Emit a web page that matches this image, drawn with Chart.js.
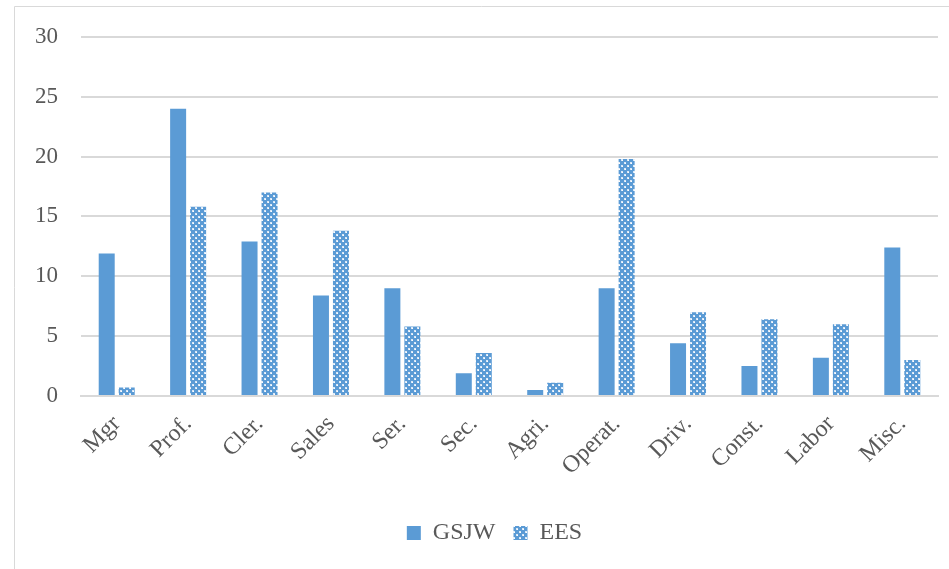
<!DOCTYPE html>
<html>
<head>
<meta charset="utf-8">
<script src="https://cdn.jsdelivr.net/npm/chart.js@4.4.1/dist/chart.umd.min.js"></script>
<style>
    html, body { margin: 0; padding: 0; background: #fff; }
    #wrap { width: 949px; height: 569px; position: relative; }
</style>
</head>
<body>
<div id="wrap"><canvas id="chart"></canvas></div>
<script>
const categories = ["Mgr", "Prof.", "Cler.", "Sales", "Ser.", "Sec.", "Agri.", "Operat.", "Driv.", "Const.", "Labor", "Misc."];
const gsjwValues = [11.9, 24.0, 12.9, 8.4, 9.0, 1.9, 0.5, 9.0, 4.4, 2.5, 3.2, 12.4];
const eesValues = [0.7, 15.8, 17.0, 13.8, 5.8, 3.6, 1.1, 19.8, 7.0, 6.4, 6.0, 3.0];

const blue = "#5b9bd5";
const textGray = "#595959";
const fontFamily = "'Liberation Serif', 'DejaVu Serif', serif";

// Excel-style dotted diamond fill for the second series
function makePattern() {
    const tile = document.createElement("canvas");
    tile.width = 6;
    tile.height = 6;
    const c = tile.getContext("2d");
    c.fillStyle = blue;
    c.fillRect(0, 0, 6, 6);
    c.fillStyle = "#dbe8f6";
    c.fillRect(0, 0, 2, 1);
    c.fillRect(0, 1, 1, 1);
    c.fillRect(3, 3, 2, 1);
    c.fillRect(3, 4, 1, 1);
    c.fillStyle = "#ffffff";
    c.fillRect(1, 1, 1, 1);
    c.fillRect(4, 4, 1, 1);
    return c.createPattern(tile, "repeat");
}
const eesPattern = makePattern();

const frameBorder = {
    id: "frameBorder",
    beforeDraw(chart) {
        const ctx = chart.ctx;
        ctx.save();
        ctx.strokeStyle = "#d9d9d9";
        ctx.lineWidth = 1;
        ctx.beginPath();
        ctx.moveTo(14.5, chart.height);
        ctx.lineTo(14.5, 6.5);
        ctx.lineTo(chart.width, 6.5);
        ctx.stroke();
        ctx.restore();
    },
};

// legend sits centred under the plot area, not the whole canvas
const legendShift = {
    id: "legendShift",
    afterLayout(chart) {
        const lg = chart.legend;
        if (!lg) return;
        const dx = (chart.chartArea.left + chart.chartArea.right) / 2 - (lg.left + lg.right) / 2 - 15;
        lg.left += dx;
        lg.right += dx;
    },
};

new Chart(document.getElementById("chart"), {
    type: "bar",
    data: {
        labels: categories,
        datasets: [
            {
                label: "GSJW",
                data: gsjwValues,
                backgroundColor: blue,
                borderWidth: 0,
            },
            {
                label: "EES",
                data: eesValues,
                backgroundColor: eesPattern,
                borderWidth: 0,
            },
        ],
    },
    options: {
        responsive: true,
        maintainAspectRatio: false,
        animation: false,
        datasets: {
            bar: { categoryPercentage: 0.56, barPercentage: 0.8 },
        },
        layout: {
            padding: { top: 28, right: 11, left: 0, bottom: 14 },
        },
        plugins: {
            legend: {
                position: "bottom",
                labels: {
                    boxWidth: 14,
                    boxHeight: 14,
                    padding: 18,
                    color: textGray,
                    font: { family: fontFamily, size: 24 },
                },
            },
            tooltip: { enabled: false },
        },
        scales: {
            x: {
                grid: { display: false },
                border: { color: "#d9d9d9", width: 2 },
                ticks: {
                    color: textGray,
                    font: { family: fontFamily, size: 24 },
                    maxRotation: 45,
                    minRotation: 45,
                    padding: 6,
                },
                afterFit(scale) {
                    scale.height = 107;
                },
            },
            y: {
                min: 0,
                max: 30,
                ticks: {
                    stepSize: 5,
                    color: textGray,
                    font: { family: fontFamily, size: 23 },
                    padding: 23,
                },
                grid: {
                    color: "#d9d9d9",
                    lineWidth: 2,
                    drawTicks: false,
                },
                border: { display: false },
                afterFit(scale) {
                    scale.width = 81;
                },
            },
        },
    },
    plugins: [frameBorder, legendShift],
});
</script>
</body>
</html>
